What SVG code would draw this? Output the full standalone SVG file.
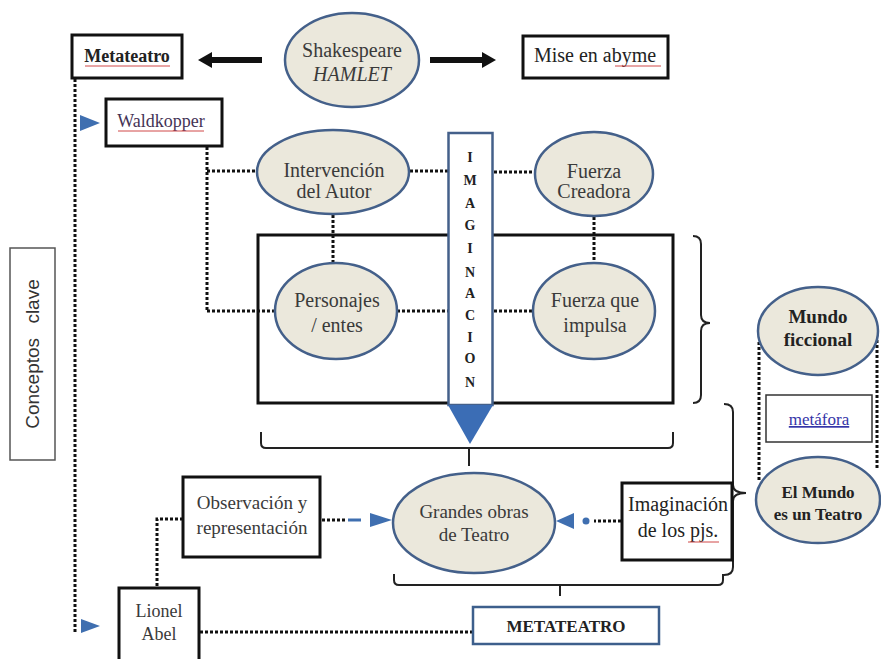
<svg xmlns="http://www.w3.org/2000/svg" width="881" height="659" viewBox="0 0 881 659">
<style>
.t{font-family:"Liberation Serif","Times New Roman",serif;fill:#3a3a3a;text-anchor:middle}
.b{font-weight:bold;fill:#222}
.box{fill:#fff;stroke:#111;stroke-width:3}
.ell{fill:#ebe8dc;stroke:#44608a;stroke-width:2.5}
.dot{fill:none;stroke:#111;stroke-width:3;stroke-dasharray:3 2}
.blue{fill:#3f6fb0}
.red{stroke:#d04848;stroke-width:1}
</style>
<rect width="881" height="659" fill="#fff"/>

<g id="connectors">
  <line x1="262" y1="60" x2="210" y2="60" stroke="#111" stroke-width="6"/>
  <polygon points="198,60 212,52 212,68" fill="#111"/>
  <line x1="430" y1="60" x2="484" y2="60" stroke="#111" stroke-width="6"/>
  <polygon points="496,60 482,52 482,68" fill="#111"/>
  <path class="dot" d="M75,79 V632"/>
  <polygon class="blue" points="80,115 100,123 80,131"/>
  <polygon class="blue" points="81,619 100,626 81,633"/>
  <path class="dot" d="M207,147 V312"/>
  <path class="dot" d="M207,171 H257"/>
  <path class="dot" d="M207,311 H275"/>
  <path class="dot" d="M410,171 H448"/>
  <path class="dot" d="M494,172 H535"/>
  <path class="dot" d="M333,215 V263"/>
  <path class="dot" d="M594,217 V263"/>
  <path class="dot" d="M397,311 H448"/>
  <path class="dot" d="M494,311 H533"/>
  <path d="M693,236 Q701,236 701,244 V315 Q701,323 710,323 Q701,323 701,331 V395 Q701,403 693,403" fill="none" stroke="#222" stroke-width="2"/>
  <path d="M261,432 V443 Q261,448 266,448 H668 Q673,448 673,443 V432" fill="none" stroke="#222" stroke-width="2"/>
  <line x1="469" y1="448" x2="469" y2="466" stroke="#222" stroke-width="2"/>
  <path d="M724,404 Q733,404 733,412 V485 Q733,493 746,493 Q733,493 733,501 V567 Q733,575 724,575" fill="none" stroke="#222" stroke-width="2"/>
  <path d="M394,574 V580 Q394,585 399,585 H718 Q723,585 723,580 V574" fill="none" stroke="#222" stroke-width="2"/>
  <line x1="560" y1="585" x2="560" y2="596" stroke="#222" stroke-width="2"/>
  <path class="dot" d="M322,520 H345"/>
  <line x1="348" y1="520" x2="361" y2="520" stroke="#3f6fb0" stroke-width="3"/>
  <polygon class="blue" points="370,513 392,520 370,527"/>
  <path class="dot" d="M183,519 H157 V587"/>
  <path class="dot" d="M621,521 H594"/>
  <circle class="blue" cx="586" cy="521" r="3.5"/>
  <polygon class="blue" points="574,513 556,521 574,529"/>
  <path class="dot" d="M200,632 H472"/>
  <path class="dot" d="M759,342 V480"/>
  <path class="dot" d="M877,340 V470"/>
</g>

<g id="conceptos">
  <rect x="10" y="248" width="45" height="212" fill="#fff" stroke="#555" stroke-width="1.5"/>
  <text transform="translate(39,354) rotate(-90)" style="font-family:'Liberation Sans',Arial,sans-serif;font-size:19px;fill:#333;text-anchor:middle;word-spacing:9px">Conceptos clave</text>
</g>

<g id="metateatro-top">
  <rect class="box" x="72" y="35" width="110" height="43"/>
  <text class="t b" x="127" y="62" font-size="18">Metateatro</text>
  <line class="red" x1="85" y1="66" x2="170" y2="66"/>
</g>

<g id="shakespeare">
  <ellipse class="ell" cx="352" cy="60" rx="67" ry="47"/>
  <text class="t" x="352" y="57" font-size="20">Shakespeare</text>
  <text class="t" x="352" y="81" font-size="20" font-style="italic">HAMLET</text>
</g>

<g id="mise">
  <rect class="box" x="523" y="36" width="145" height="42"/>
  <text class="t" x="595" y="62" font-size="20" style="fill:#222">Mise en abyme</text>
  <line class="red" x1="615" y1="66" x2="661" y2="66"/>
</g>

<g id="waldkopper">
  <rect class="box" x="106" y="99" width="116" height="47" stroke-width="2.5"/>
  <text class="t" x="161" y="127" font-size="18" style="fill:#443355">Waldkopper</text>
  <line class="red" x1="118" y1="131" x2="204" y2="131"/>
</g>

<g id="marco">
  <rect x="258" y="235" width="415" height="168" fill="none" stroke="#111" stroke-width="3"/>
</g>

<g id="intervencion">
  <ellipse class="ell" cx="333" cy="172" rx="76" ry="42"/>
  <text class="t" x="334" y="177" font-size="20">Intervención</text>
  <text class="t" x="334" y="198" font-size="20">del Autor</text>
</g>

<g id="fuerza-creadora">
  <ellipse class="ell" cx="594" cy="174" rx="59" ry="42"/>
  <text class="t" x="594" y="178" font-size="20">Fuerza</text>
  <text class="t" x="594" y="198" font-size="20">Creadora</text>
</g>

<g id="personajes">
  <ellipse class="ell" cx="336" cy="311" rx="61" ry="48"/>
  <text class="t" x="337" y="307" font-size="20">Personajes</text>
  <text class="t" x="337" y="332" font-size="20">/ entes</text>
</g>

<g id="fuerza-impulsa">
  <ellipse class="ell" cx="594" cy="311" rx="61" ry="48"/>
  <text class="t" x="595" y="307" font-size="20">Fuerza que</text>
  <text class="t" x="595" y="332" font-size="20">impulsa</text>
</g>

<g id="imaginacion">
  <rect x="448.5" y="133" width="44" height="272" fill="#fff" stroke="#44608a" stroke-width="2.5"/>
  <polygon points="448,405 493,405 470,444" fill="#3b6db5"/>
  <g class="t b" font-size="14" style="fill:#222">
    <text x="470" y="162">I</text>
    <text x="470" y="185">M</text>
    <text x="470" y="208">A</text>
    <text x="470" y="230">G</text>
    <text x="470" y="253">I</text>
    <text x="470" y="277">N</text>
    <text x="470" y="298">A</text>
    <text x="470" y="320">C</text>
    <text x="470" y="342">I</text>
    <text x="470" y="363">O</text>
    <text x="470" y="387">N</text>
  </g>
</g>

<g id="mundo-ficcional">
  <ellipse class="ell" cx="818" cy="331" rx="60" ry="44"/>
  <text class="t b" x="818" y="323" font-size="19">Mundo</text>
  <text class="t b" x="818" y="346" font-size="19">ficcional</text>
</g>

<g id="metafora">
  <rect x="766" y="395" width="106" height="47" fill="#fff" stroke="#333" stroke-width="1.5"/>
  <text class="t" x="819" y="425" font-size="17" style="fill:#3535a8" text-decoration="underline">metáfora</text>
</g>

<g id="el-mundo">
  <ellipse class="ell" cx="818" cy="500" rx="62" ry="43"/>
  <text class="t b" x="818" y="498" font-size="17">El Mundo</text>
  <text class="t b" x="818" y="520" font-size="17">es un Teatro</text>
</g>

<g id="grandes-obras">
  <ellipse class="ell" cx="474" cy="523" rx="81" ry="50"/>
  <text class="t" x="474" y="518" font-size="19">Grandes obras</text>
  <text class="t" x="474" y="541" font-size="19">de Teatro</text>
</g>

<g id="observacion">
  <rect class="box" x="183" y="477" width="137" height="80"/>
  <text class="t" x="252" y="509" font-size="19">Observación y</text>
  <text class="t" x="252" y="534" font-size="19">representación</text>
</g>

<g id="imaginacion-pjs">
  <rect class="box" x="622" y="483" width="110" height="77"/>
  <text class="t" x="678" y="511" font-size="20" style="fill:#222">Imaginación</text>
  <text class="t" x="678" y="537" font-size="20" style="fill:#222">de los pjs.</text>
  <line class="red" x1="688" y1="542" x2="719" y2="542"/>
</g>

<g id="lionel">
  <rect class="box" x="119" y="588" width="80" height="80"/>
  <text class="t" x="159" y="617" font-size="18">Lionel</text>
  <text class="t" x="159" y="640" font-size="18">Abel</text>
</g>

<g id="metateatro-bottom">
  <rect x="473" y="607" width="186" height="37" fill="#fff" stroke="#3d5f8c" stroke-width="2.5"/>
  <text class="t b" x="566" y="632" font-size="17">METATEATRO</text>
</g>
</svg>
